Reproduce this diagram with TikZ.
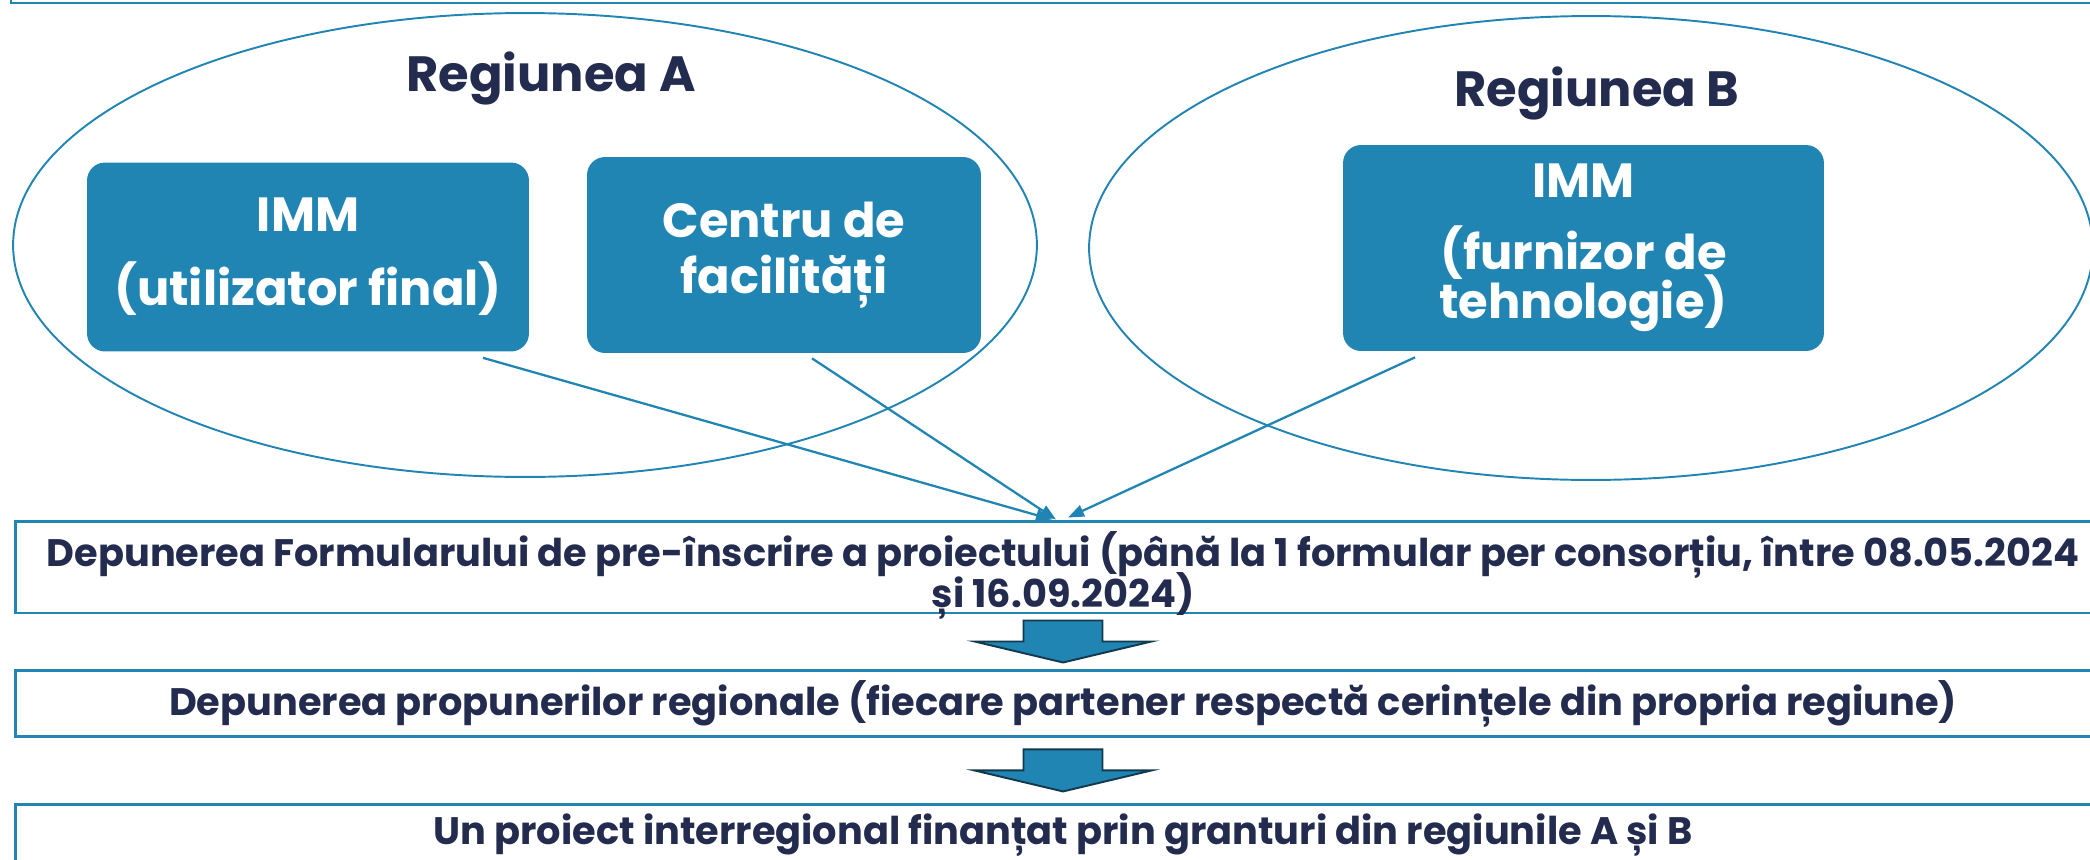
\documentclass[tikz,border=0pt]{standalone}
\usepackage{fontspec}
\setmainfont{Poppins}
\usepackage{tikz}
\usetikzlibrary{positioning}
\usetikzlibrary{shapes,arrows.meta}
\usetikzlibrary{calc}
\definecolor{regblue}{HTML}{2185B4}
\definecolor{regnavy}{HTML}{232C4F}
\definecolor{arrowedge}{HTML}{113A4F}

\begin{document}
\begin{tikzpicture} [x=0.02cm, y=-0.02cm,
                region/.style = {draw=regblue, line width=1.1pt, ellipse, inner sep=0pt, minimum height=9.28cm},
                regtitle/.style = {text=regnavy, font=\bfseries\fontsize{28.2}{33}\selectfont},
                actor/.style = {fill=regblue, rounded corners=0.36cm, text=white, align=center, font=\bfseries\fontsize{27.3}{32}\selectfont},
                stage/.style = {draw=regblue, line width=1.7pt, minimum width=41.92cm, inner sep=2pt, align=center, text=regnavy, font=\bfseries\fontsize{21.8}{23.5}\selectfont},
                feed/.style = {draw=regblue, line width=1.3pt, -{Triangle[length=0.32cm,width=0.24cm]}},
                blockarrow/.style = {fill=regblue, draw=arrowedge, line width=1.1pt, line join=miter}
            ]
            \useasboundingbox (0,0) rectangle (2090,859);
            \draw [draw=regblue, line width=1.7pt] (11,-60) rectangle (2200,3);
            \node (ra) at (525,245) [region, minimum width=20.48cm] {};
            \node (rb) at (1591,248) [region, minimum width=20.08cm] {};
            \node (ta) at (551,78) [regtitle] {Regiunea A};
            \node (tb) at (1597,93) [regtitle] {Regiunea B};
            \node (ima) at (308,257) [actor, minimum width=8.84cm, minimum height=3.78cm] {IMM\\[10pt](utilizator final)};
            \node (cf) at (784,255) [actor, minimum width=7.88cm, minimum height=3.92cm] {Centru de\\facilități};
            \node (imb) at (1583.5,248) [actor, minimum width=9.62cm, minimum height=4.12cm] {IMM\\[9pt](furnizor de\\[-4pt]tehnologie)};
            \node (p1) at (1063,567) [stage, minimum height=1.84cm, text depth=0pt] {\rule{0pt}{0.8cm}Depunerea Formularului de pre-înscrire a proiectului (până la 1 formular per consorțiu, între 08.05.2024\\[-4.6pt]și 16.09.2024)};
            \node[stage, minimum height=1.32cm, below=1.1cm of p1] (p2) {Depunerea propunerilor regionale (fiecare partener respectă cerințele din propria regiune)};
            \node[stage, minimum height=1.2cm, below=1.3cm of p2] (p3) {Un proiect interregional finanțat prin granturi din regiunile A și B};
            \draw [feed] ([xshift=3.5cm, yshift=-0.12cm] ima.south) -- ([xshift=-0.22cm] p1.north);
            \draw [feed] ([xshift=0.56cm, yshift=-0.1cm] cf.south) -- ([xshift=-0.14cm] p1.north);
            \draw [feed] ([xshift=-3.37cm, yshift=-0.12cm] imb.south) -- ([xshift=0.1cm, yshift=0.04cm] p1.north);
            \draw [blockarrow] ([xshift=-0.79cm, yshift=-0.12cm] p1.south) -- ++(79,0) -- ++(0,21) -- ++(49,0) -- ++(-88.5,21) -- ++(-88.5,-21) -- ++(49,0) -- cycle;
            \draw [blockarrow] ([xshift=-0.79cm, yshift=-0.22cm] p2.south) -- ++(79,0) -- ++(0,21) -- ++(49,0) -- ++(-88.5,21) -- ++(-88.5,-21) -- ++(49,0) -- cycle;
        \end{tikzpicture}
\end{document}
